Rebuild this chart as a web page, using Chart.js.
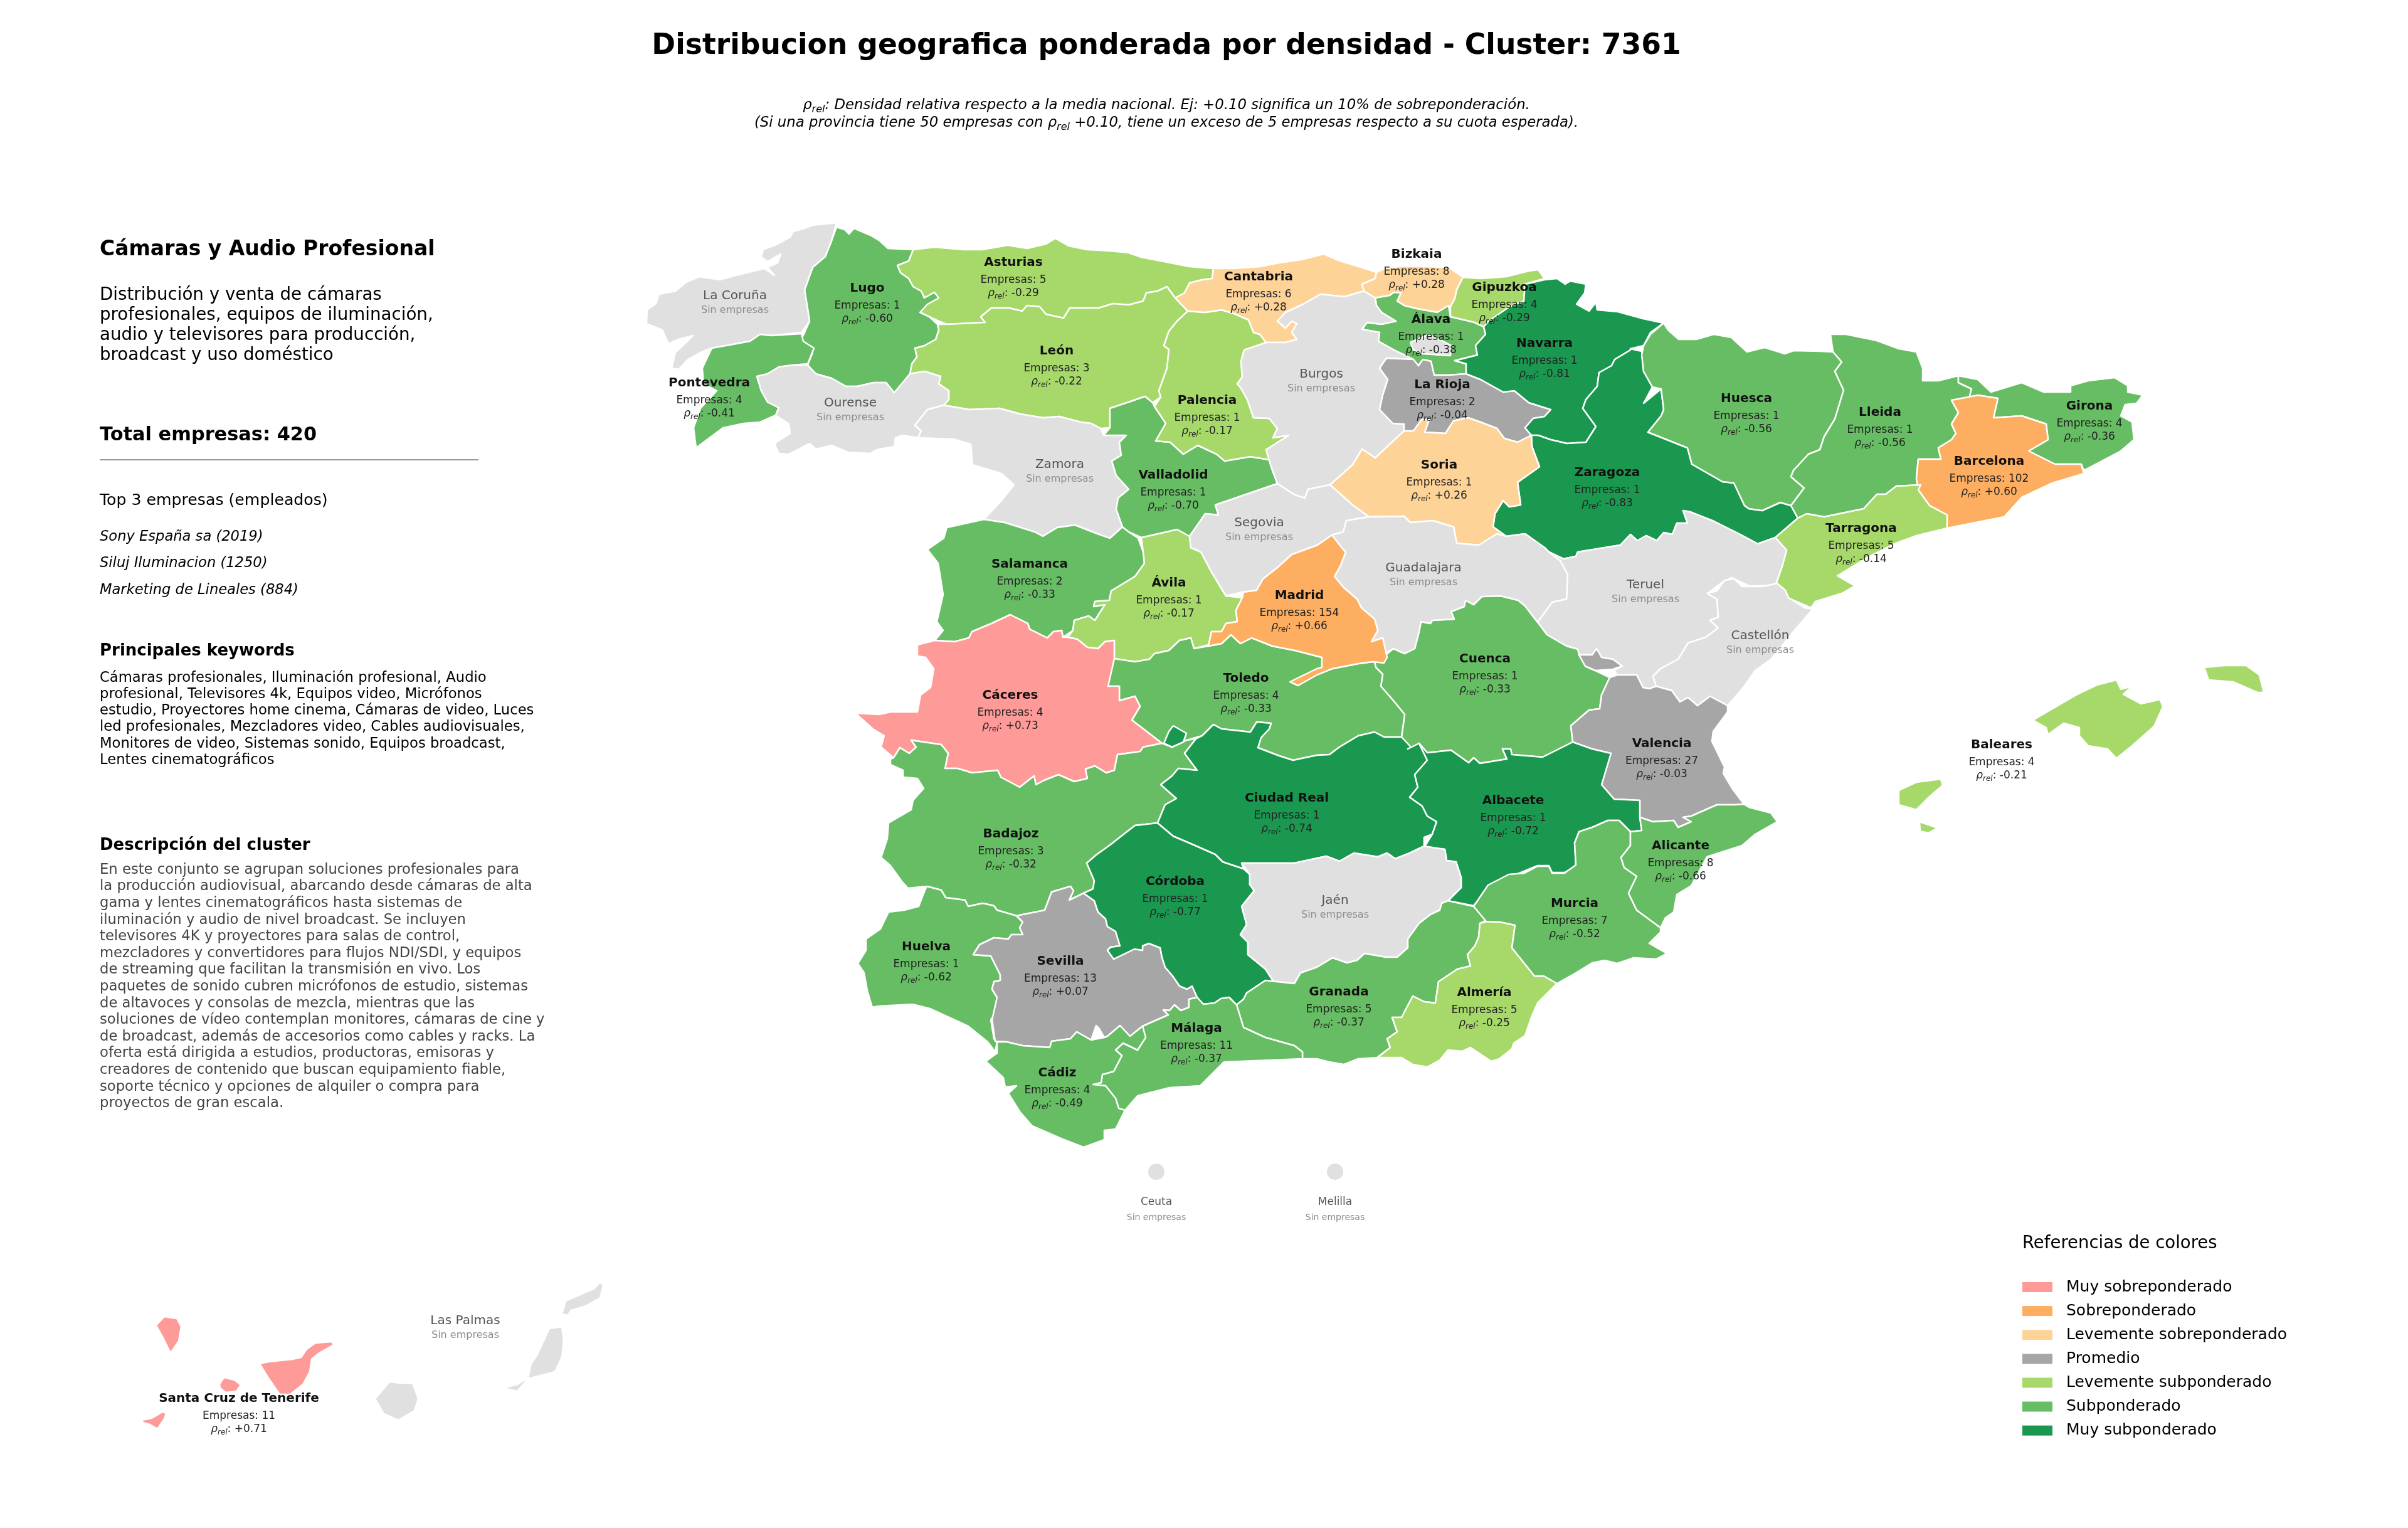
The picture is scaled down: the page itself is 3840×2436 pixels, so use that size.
<!DOCTYPE html>
<html>
<head>
<meta charset="utf-8">
<title>Distribucion geografica</title>
<script src="https://cdn.jsdelivr.net/npm/chart.js@4"></script>
<style>
  html, body { margin: 0; padding: 0; background: #fff; }
  canvas { display: block; }
</style>
</head>
<body>
<canvas id="mapChart" width="3840" height="2436"></canvas>
<script>
// Province outlines (x, y pairs in map units)
const shapeAsturias = [1456,398,1490,394,1536,398,1566,398,1607,391,1638,396,1668,389,1683,380,1704,392,1734,398,1770,400,1800,403,1820,410,1851,416,1897,425,1935,428,1933,444,1917,446,1897,451,1889,467,1874,475,1861,457,1846,464,1828,467,1823,480,1800,486,1775,484,1752,491,1706,491,1696,507,1668,501,1658,489,1638,487,1630,496,1609,491,1581,491,1564,505,1571,514,1510,517,1497,512,1482,505,1467,498,1474,473,1456,457,1449,444,1436,435,1431,423,1449,416];
const shapeLeon = [1510,517,1495,517,1497,526,1492,541,1474,551,1459,555,1462,569,1454,580,1451,596,1474,592,1500,600,1497,612,1513,623,1513,637,1505,646,1546,653,1594,651,1627,660,1663,666,1689,664,1724,673,1740,675,1755,683,1770,682,1770,651,1800,641,1826,632,1838,642,1851,633,1848,623,1861,587,1864,557,1856,551,1864,528,1877,512,1894,496,1874,475,1861,457,1846,464,1828,467,1823,480,1800,486,1775,484,1752,491,1706,491,1696,507,1668,501,1658,489,1638,487,1630,496,1609,491,1581,491,1564,505,1571,514];
const shapeLugo = [1334,362,1347,366,1354,373,1362,364,1388,375,1403,384,1416,396,1456,398,1449,416,1431,423,1436,435,1449,444,1456,457,1469,464,1474,475,1490,466,1497,475,1479,485,1467,498,1482,505,1495,517,1497,526,1492,541,1474,551,1459,555,1462,569,1454,580,1451,596,1439,612,1426,626,1413,610,1393,610,1367,616,1349,616,1326,603,1301,596,1288,582,1296,562,1278,541,1283,530,1291,512,1283,462,1296,426,1316,409,1326,384];
const shapeLaCoruna = [1334,355,1296,359,1283,364,1265,369,1260,378,1240,389,1217,398,1214,410,1224,417,1245,405,1240,419,1224,426,1235,439,1219,428,1194,434,1173,439,1148,446,1115,441,1094,450,1077,464,1051,469,1046,484,1032,494,1031,516,1056,526,1066,548,1082,541,1105,535,1092,548,1077,562,1071,587,1082,589,1097,573,1117,562,1135,555,1158,551,1196,544,1212,533,1230,535,1278,530,1291,512,1283,462,1296,426,1316,409,1326,384];
const shapePontevedra = [1135,555,1158,551,1196,544,1212,533,1230,535,1278,532,1281,544,1298,555,1288,580,1265,582,1242,585,1224,596,1207,600,1214,623,1224,641,1242,650,1237,662,1212,673,1186,675,1153,682,1110,714,1106,682,1117,651,1143,623,1122,612,1120,587];
const shapeOurense = [1207,600,1224,596,1242,585,1265,582,1288,582,1301,596,1326,603,1349,616,1367,616,1393,610,1413,610,1426,626,1451,596,1474,592,1500,600,1497,612,1513,623,1513,637,1505,646,1479,653,1459,678,1469,687,1464,698,1439,694,1428,698,1426,712,1398,717,1388,723,1352,721,1326,710,1301,716,1291,707,1258,724,1242,723,1235,707,1260,691,1258,676,1237,662,1242,650,1224,641,1214,623];
const shapeZamora = [1505,646,1546,653,1594,651,1627,660,1663,666,1689,664,1724,673,1740,675,1755,683,1760,694,1796,694,1785,705,1788,726,1773,735,1780,758,1800,780,1783,794,1780,812,1790,840,1770,858,1750,851,1714,837,1686,841,1663,855,1650,848,1602,833,1569,828,1597,798,1617,773,1597,755,1551,741,1548,708,1520,700,1464,698,1469,687,1459,678,1479,653];
const shapeSalamanca = [1569,828,1510,841,1505,858,1479,876,1496,898,1499,916,1504,948,1494,991,1504,1005,1491,1021,1522,1023,1545,1017,1550,1007,1581,994,1611,980,1639,994,1642,1003,1670,1017,1680,1007,1693,1005,1695,1016,1711,1005,1713,989,1736,982,1746,989,1762,964,1744,967,1746,959,1769,957,1772,942,1810,919,1825,898,1823,880,1815,858,1800,848,1790,840,1770,858,1750,851,1714,837,1686,841,1663,855,1650,848,1602,833];
const shapeAvila = [1823,880,1820,857,1877,844,1897,855,1899,873,1915,880,1932,912,1955,950,1981,953,1971,973,1973,991,1955,994,1948,1007,1932,1007,1927,1028,1904,1034,1899,1017,1881,1021,1864,1037,1841,1042,1833,1051,1810,1055,1777,1050,1777,1021,1762,1023,1751,1034,1734,1032,1718,1019,1703,1016,1711,1005,1713,989,1736,982,1746,989,1762,964,1744,967,1746,959,1769,957,1772,942,1810,919,1825,898];
const shapeValladolid = [1770,651,1770,682,1760,694,1796,694,1785,705,1788,726,1773,735,1780,758,1800,780,1783,794,1780,812,1790,840,1800,848,1820,857,1877,844,1897,855,1922,819,1943,821,1938,805,2037,771,2027,744,2024,733,1994,728,1953,735,1940,724,1910,710,1887,724,1866,705,1843,703,1859,675,1841,648,1838,642,1826,632,1800,641];
const shapePalencia = [1894,496,1922,498,1948,494,1968,500,1991,510,1999,530,2009,533,2019,546,1984,558,1979,576,1981,601,1973,612,1979,619,1989,637,1999,666,2024,667,2037,683,2030,698,2055,694,2019,717,2024,733,1994,728,1953,735,1940,724,1910,710,1887,724,1866,705,1843,703,1859,675,1841,648,1851,633,1848,623,1861,587,1864,557,1856,551,1864,528,1877,512];
const shapeCantabria = [1935,428,1968,428,2009,425,2040,419,2075,414,2111,405,2137,416,2167,425,2195,434,2193,444,2172,453,2175,464,2144,473,2106,469,2078,485,2050,498,2037,512,2050,523,2060,512,2068,516,2060,530,2068,541,2050,546,2019,546,2009,533,1999,530,1991,510,1968,500,1948,494,1922,498,1894,496,1874,475,1889,467,1897,451,1917,446,1933,444];
const shapeBizkaia = [2195,434,2208,428,2239,424,2274,425,2310,426,2333,442,2323,462,2320,476,2313,489,2292,498,2259,492,2239,487,2228,480,2234,467,2223,466,2216,471,2193,475,2175,464,2172,453,2193,444];
const shapeGipuzkoa = [2333,442,2361,444,2402,441,2438,432,2453,430,2463,444,2432,453,2430,480,2407,489,2374,512,2366,521,2351,514,2313,505,2313,489,2320,476,2323,462];
const shapeAlava = [2193,475,2216,471,2223,466,2234,467,2228,480,2239,487,2259,492,2292,498,2310,487,2313,505,2351,514,2366,521,2369,533,2353,551,2356,566,2320,575,2338,580,2338,596,2310,598,2287,598,2282,576,2269,573,2262,583,2249,573,2223,558,2198,544,2200,530,2172,525,2180,514,2203,517,2226,512,2203,498,2195,487];
const shapeBurgos = [2144,473,2106,469,2078,485,2050,498,2037,512,2050,523,2060,512,2068,516,2060,530,2068,541,2050,546,2019,546,1984,558,1979,576,1981,601,1973,612,1979,619,1989,637,1999,666,2024,667,2037,683,2030,698,2055,694,2019,717,2027,744,2037,771,2065,789,2081,794,2086,780,2121,773,2157,741,2172,716,2193,730,2239,687,2239,676,2221,675,2200,653,2205,630,2213,605,2200,587,2211,571,2254,573,2223,558,2198,544,2200,530,2172,525,2180,514,2203,517,2226,512,2203,498,2195,487,2193,475,2175,464];
const shapeTrevino = [2249,546,2279,533,2315,551,2313,567,2269,564,2254,558];
const shapeLaRioja = [2211,571,2254,573,2262,583,2269,573,2282,576,2287,598,2310,598,2338,596,2361,605,2397,625,2415,623,2438,642,2473,653,2463,664,2445,667,2432,682,2442,694,2420,705,2399,699,2387,683,2361,673,2341,666,2318,671,2305,691,2272,689,2279,669,2267,669,2254,687,2239,687,2239,676,2221,675,2200,653,2205,630,2213,605,2200,587];
const shapeNavarra = [2463,446,2483,444,2496,453,2504,448,2529,453,2527,467,2514,485,2534,496,2545,482,2547,494,2580,497,2620,508,2653,515,2632,530,2621,551,2600,556,2600,558,2575,573,2570,583,2550,594,2547,616,2529,637,2524,651,2545,680,2529,705,2499,707,2473,701,2453,694,2442,694,2432,682,2445,667,2463,664,2473,653,2438,642,2415,623,2397,625,2361,605,2338,596,2338,580,2320,575,2356,566,2353,551,2369,533,2366,521,2374,512,2407,489,2430,480,2432,453];
const shapeZaragoza = [2600,556,2618,560,2621,592,2635,617,2621,643,2649,620,2653,653,2649,663,2628,689,2691,714,2698,740,2747,768,2765,770,2782,806,2789,811,2810,814,2839,801,2856,806,2867,826,2831,857,2803,867,2775,852,2733,831,2695,816,2684,814,2691,834,2674,834,2667,852,2653,849,2642,862,2625,854,2611,862,2600,852,2584,869,2516,880,2513,887,2493,891,2470,880,2463,873,2432,851,2402,855,2381,840,2384,819,2397,798,2407,808,2425,805,2420,769,2455,744,2443,712,2442,694,2453,694,2473,701,2499,707,2529,705,2545,680,2524,651,2529,637,2547,616,2550,594,2570,583,2575,573,2600,558];
const shapeSoria = [2239,687,2254,687,2267,669,2279,669,2272,689,2305,691,2318,671,2341,666,2361,673,2387,683,2399,699,2420,705,2442,694,2443,712,2455,744,2420,769,2425,805,2407,808,2397,798,2384,819,2381,840,2402,855,2387,862,2358,869,2323,866,2318,840,2285,830,2249,833,2239,823,2183,824,2157,805,2121,773,2157,741,2172,716,2193,730];
const shapeHuesca = [2653,515,2632,533,2621,551,2618,566,2621,592,2635,617,2649,620,2653,653,2649,663,2628,689,2691,714,2698,740,2747,768,2765,770,2782,806,2789,811,2810,814,2839,801,2856,806,2877,778,2856,760,2860,750,2884,724,2902,717,2909,696,2926,668,2940,622,2926,592,2937,577,2923,561,2902,560,2860,559,2846,564,2814,554,2786,561,2761,538,2733,533,2705,541,2677,541,2660,526];
const shapeLleida = [2919,533,2944,533,2993,543,3028,556,3056,561,3066,587,3066,607,3091,607,3123,599,3123,610,3144,620,3140,635,3112,638,3123,658,3112,676,3119,691,3112,701,3091,714,3095,732,3059,732,3056,763,3063,773,3024,775,3007,788,2993,788,2972,811,2909,824,2881,819,2867,826,2856,806,2877,778,2856,760,2860,750,2884,724,2902,717,2909,696,2926,668,2940,622,2926,592,2937,577,2923,561];
const shapeGirona = [3123,599,3154,605,3175,625,3224,610,3259,625,3302,625,3302,615,3330,607,3372,602,3393,615,3393,625,3417,630,3407,643,3389,645,3382,663,3400,673,3403,701,3382,719,3323,750,3319,740,3277,740,3235,719,3266,701,3263,676,3224,663,3179,666,3186,635,3154,630,3140,635,3144,620,3123,610];
const shapeBarcelona = [3112,638,3154,630,3186,635,3179,666,3224,663,3263,676,3266,701,3235,719,3277,740,3319,740,3323,755,3273,770,3224,793,3196,824,3105,842,3105,821,3077,806,3059,781,3056,763,3059,732,3095,732,3091,714,3112,701,3119,691,3112,676,3123,658];
const shapeTarragona = [2867,826,2881,819,2909,824,2972,811,2993,788,3007,788,3024,775,3063,773,3059,781,3077,806,3105,821,3105,842,3056,854,3021,867,2979,888,2930,918,2958,934,2937,946,2895,959,2888,969,2846,951,2831,934,2842,903,2849,877,2831,857];
const shapeTeruel = [2470,880,2493,891,2513,887,2516,880,2584,869,2600,852,2611,862,2625,854,2642,862,2653,849,2667,852,2674,834,2691,834,2684,814,2695,816,2733,831,2775,852,2803,867,2831,857,2849,877,2842,903,2831,934,2789,934,2761,921,2747,928,2723,946,2738,955,2740,984,2727,989,2740,1001,2720,1016,2692,1025,2676,1051,2648,1066,2636,1078,2641,1094,2630,1098,2620,1096,2610,1076,2579,1076,2574,1069,2587,1062,2572,1051,2554,1048,2546,1034,2539,1044,2518,1044,2516,1035,2498,1030,2467,1012,2452,992,2475,960,2498,955,2500,916,2488,894];
const shapeCastellon = [2722,946,2738,942,2750,925,2766,923,2778,935,2811,935,2834,930,2847,941,2852,953,2878,969,2891,971,2865,1001,2824,1051,2799,1069,2783,1092,2763,1116,2755,1125,2727,1110,2707,1125,2692,1112,2679,1119,2666,1101,2641,1094,2636,1078,2648,1066,2676,1051,2692,1025,2720,1016,2740,1001,2727,989,2740,984,2738,955];
const shapeValencia = [2567,1080,2579,1076,2610,1076,2620,1096,2630,1098,2641,1094,2666,1101,2679,1119,2692,1112,2707,1125,2727,1110,2755,1125,2755,1135,2732,1166,2730,1182,2750,1223,2748,1233,2763,1258,2781,1282,2766,1283,2738,1283,2697,1301,2684,1303,2697,1310,2676,1319,2669,1308,2636,1310,2615,1303,2615,1276,2574,1274,2554,1251,2569,1201,2539,1194,2508,1183,2505,1157,2534,1132,2551,1130,2554,1108];
const shapeAdemuz = [2518,1044,2539,1044,2546,1034,2554,1048,2572,1051,2587,1062,2572,1067,2544,1069,2528,1062];
const shapeSegovia = [1938,805,2037,771,2065,789,2081,794,2086,780,2121,773,2157,805,2183,824,2147,830,2142,848,2124,853,2101,869,2060,884,2037,905,2014,923,2004,941,1981,944,1955,950,1932,912,1915,880,1899,873,1897,855,1922,819,1943,821];
const shapeGuadalajara = [2147,830,2183,824,2239,823,2249,833,2285,830,2318,840,2323,866,2358,869,2387,851,2402,855,2432,851,2463,873,2470,880,2488,894,2500,916,2498,955,2475,960,2452,992,2432,966,2421,957,2393,950,2363,951,2350,964,2337,957,2335,967,2314,975,2319,987,2284,989,2281,994,2266,991,2263,1007,2256,1034,2240,1042,2222,1034,2210,1041,2205,1017,2187,1023,2197,1005,2192,987,2171,969,2164,955,2143,937,2128,919,2138,901,2146,880,2142,876,2124,853,2142,848];
const shapeToledo = [1777,1050,1810,1055,1833,1051,1841,1042,1864,1037,1881,1021,1899,1017,1904,1034,1927,1030,1948,1026,1963,1012,1978,1026,1996,1017,2029,1030,2065,1037,2100,1046,2108,1048,2108,1064,2125,1066,2166,1058,2189,1055,2192,1055,2194,1064,2205,1075,2202,1094,2222,1117,2240,1139,2235,1175,2207,1175,2192,1167,2166,1173,2136,1191,2120,1203,2100,1204,2062,1212,2040,1205,2006,1192,2011,1176,2024,1162,2027,1153,2004,1151,1994,1167,1948,1162,1935,1155,1917,1173,1892,1180,1869,1191,1853,1185,1805,1148,1818,1126,1810,1110,1785,1117,1785,1094,1767,1094,1774,1051];
const shapeMadrid = [2124,853,2142,876,2146,880,2138,901,2128,919,2143,937,2164,955,2171,969,2192,987,2197,1005,2187,1023,2205,1017,2212,1048,2207,1057,2189,1055,2166,1058,2125,1066,2100,1076,2070,1093,2057,1087,2100,1066,2108,1064,2108,1048,2100,1046,2065,1037,2029,1030,1996,1017,1978,1026,1963,1012,1948,1026,1927,1030,1932,1007,1948,1007,1955,994,1973,991,1971,973,1981,953,1983,944,2004,941,2014,923,2037,905,2060,884,2101,869];
const shapeCuenca = [2210,1044,2222,1034,2240,1042,2256,1034,2263,1007,2266,991,2281,994,2284,989,2319,987,2314,975,2335,967,2337,957,2350,964,2363,951,2393,950,2421,957,2432,966,2452,992,2467,1012,2498,1030,2516,1035,2518,1044,2528,1062,2544,1069,2567,1080,2554,1108,2551,1130,2534,1132,2505,1157,2508,1183,2460,1207,2411,1203,2409,1194,2396,1194,2403,1210,2360,1217,2350,1208,2342,1216,2314,1196,2276,1200,2263,1185,2248,1194,2235,1175,2240,1139,2222,1117,2202,1094,2205,1075,2194,1064,2192,1055];
const shapeCaceres = [1463,1028,1491,1021,1522,1023,1545,1017,1550,1007,1581,994,1611,980,1639,994,1642,1003,1670,1017,1680,1007,1693,1005,1695,1016,1703,1016,1718,1019,1734,1032,1751,1034,1762,1023,1777,1021,1777,1050,1767,1094,1785,1094,1785,1117,1810,1110,1818,1126,1805,1148,1853,1185,1823,1191,1818,1198,1782,1203,1777,1228,1764,1232,1746,1221,1731,1226,1734,1241,1713,1246,1688,1235,1665,1244,1652,1251,1649,1237,1626,1255,1596,1239,1591,1228,1550,1232,1527,1225,1507,1225,1512,1201,1501,1187,1453,1180,1461,1191,1450,1201,1435,1192,1425,1208,1405,1191,1410,1173,1392,1162,1364,1137,1402,1139,1420,1135,1463,1135,1468,1108,1484,1096,1489,1066,1476,1048,1463,1046];
const shapeBadajoz = [1478,1413,1501,1419,1508,1431,1539,1435,1544,1445,1567,1440,1585,1444,1590,1451,1621,1460,1666,1451,1677,1422,1707,1413,1712,1420,1705,1435,1728,1424,1743,1417,1745,1404,1733,1376,1748,1363,1769,1348,1792,1330,1810,1316,1846,1312,1858,1283,1876,1273,1851,1251,1869,1237,1879,1225,1909,1228,1889,1201,1907,1178,1892,1180,1869,1191,1853,1185,1823,1191,1818,1198,1782,1203,1777,1228,1764,1232,1746,1221,1731,1226,1734,1241,1713,1246,1688,1235,1665,1244,1652,1251,1649,1237,1626,1255,1596,1239,1591,1228,1550,1232,1527,1225,1507,1225,1512,1201,1501,1187,1453,1180,1461,1191,1450,1201,1435,1192,1425,1208,1420,1210,1420,1219,1440,1228,1440,1239,1463,1241,1473,1257,1456,1276,1453,1291,1417,1312,1415,1337,1405,1367,1420,1380,1438,1405,1448,1416];
const shapeHuelva = [1478,1413,1501,1419,1508,1431,1539,1435,1544,1445,1567,1440,1585,1444,1590,1451,1621,1460,1631,1470,1626,1479,1631,1490,1613,1490,1608,1497,1585,1495,1562,1506,1552,1522,1580,1524,1595,1554,1595,1563,1585,1565,1582,1577,1590,1590,1587,1615,1580,1626,1585,1656,1590,1661,1587,1677,1575,1661,1544,1636,1483,1608,1455,1601,1401,1604,1391,1606,1383,1579,1378,1551,1368,1536,1381,1515,1381,1497,1404,1481,1417,1454,1442,1451,1465,1445,1475,1419];
const shapeSevilla = [1621,1460,1666,1451,1677,1422,1707,1413,1712,1420,1705,1435,1728,1424,1745,1436,1751,1454,1763,1465,1766,1477,1779,1485,1786,1508,1771,1510,1766,1515,1776,1529,1809,1513,1822,1515,1822,1508,1832,1504,1850,1511,1853,1526,1858,1542,1870,1556,1881,1572,1893,1577,1901,1572,1909,1590,1896,1593,1896,1606,1883,1611,1873,1602,1865,1611,1855,1610,1863,1618,1822,1636,1802,1652,1786,1635,1766,1652,1761,1654,1753,1640,1748,1635,1740,1658,1717,1645,1707,1656,1677,1660,1674,1670,1631,1667,1605,1661,1587,1660,1582,1626,1590,1590,1582,1577,1585,1565,1595,1563,1595,1554,1580,1524,1552,1522,1562,1506,1585,1495,1608,1497,1613,1490,1631,1490,1626,1479,1631,1470];
const shapeCordoba = [1748,1363,1769,1348,1792,1330,1810,1316,1846,1312,1871,1333,1897,1344,1938,1362,1950,1374,1983,1385,1993,1394,1993,1410,2000,1420,1980,1445,1988,1474,1978,1490,1990,1502,1990,1522,2018,1545,2031,1565,2018,1563,1988,1583,1983,1593,1972,1602,1960,1590,1947,1592,1937,1599,1919,1601,1909,1590,1901,1572,1893,1577,1881,1572,1870,1556,1858,1542,1853,1526,1850,1511,1832,1504,1822,1508,1822,1515,1809,1513,1776,1529,1766,1515,1771,1510,1786,1508,1779,1485,1766,1477,1763,1465,1751,1454,1745,1436,1728,1424,1743,1417,1745,1404,1733,1376];
const shapeCiudadReal = [2100,1204,2120,1203,2136,1191,2166,1173,2192,1167,2207,1175,2235,1175,2250,1191,2245,1194,2263,1185,2276,1212,2256,1235,2261,1255,2248,1271,2268,1285,2276,1301,2291,1310,2284,1330,2271,1335,2271,1349,2248,1360,2225,1369,2212,1360,2197,1366,2159,1360,2136,1373,2115,1365,2064,1376,1980,1376,1983,1385,1950,1374,1938,1362,1897,1344,1871,1333,1846,1312,1858,1283,1876,1273,1851,1251,1869,1237,1879,1225,1909,1228,1889,1201,1907,1178,1917,1173,1935,1155,1948,1162,1994,1167,2004,1151,2027,1153,2024,1162,2011,1176,2006,1192,2040,1205,2062,1212];
const shapeAnchuras = [1871,1157,1892,1169,1887,1183,1869,1191,1856,1185,1864,1166];
const shapeAlbacete = [2276,1200,2314,1196,2342,1216,2350,1208,2360,1217,2403,1210,2396,1194,2409,1194,2411,1203,2460,1207,2508,1183,2539,1194,2569,1201,2554,1251,2574,1274,2615,1276,2615,1303,2618,1324,2600,1326,2582,1308,2564,1308,2539,1319,2518,1326,2511,1344,2513,1380,2495,1391,2475,1391,2470,1380,2452,1380,2406,1399,2375,1412,2350,1444,2309,1436,2330,1415,2330,1399,2322,1374,2307,1372,2304,1354,2271,1351,2284,1330,2291,1310,2276,1301,2268,1285,2248,1271,2261,1255,2256,1235,2276,1212,2263,1185];
const shapeJaen = [1980,1376,2064,1376,2115,1365,2136,1373,2159,1360,2197,1366,2212,1360,2225,1369,2248,1360,2271,1349,2304,1354,2307,1372,2322,1374,2330,1399,2330,1415,2309,1436,2299,1440,2296,1451,2281,1458,2263,1472,2245,1497,2245,1511,2228,1526,2210,1526,2176,1520,2164,1531,2148,1535,2125,1527,2100,1542,2074,1551,2064,1568,2036,1565,2031,1565,2018,1545,1990,1522,1990,1502,1978,1490,1988,1474,1980,1445,2000,1420,1993,1410,1993,1394];
const shapeGranada = [1972,1602,1983,1593,1988,1583,2018,1563,2036,1565,2064,1568,2074,1551,2100,1542,2125,1527,2148,1535,2164,1531,2176,1520,2210,1526,2228,1526,2245,1511,2245,1497,2263,1472,2281,1458,2296,1451,2299,1440,2309,1436,2350,1445,2370,1467,2360,1472,2358,1494,2352,1508,2340,1522,2345,1540,2324,1545,2294,1565,2289,1599,2271,1597,2253,1588,2235,1622,2220,1622,2228,1645,2212,1656,2217,1670,2197,1685,2197,1686,2166,1688,2143,1697,2120,1693,2100,1688,2077,1688,2077,1677,2064,1667,2018,1654,1983,1638];
const shapeAlmeria = [2370,1469,2393,1470,2416,1475,2411,1511,2447,1556,2462,1556,2483,1568,2452,1599,2442,1622,2432,1651,2414,1663,2411,1672,2391,1688,2378,1692,2345,1670,2332,1676,2309,1674,2296,1690,2276,1701,2253,1697,2235,1686,2197,1686,2217,1670,2212,1656,2228,1645,2220,1622,2235,1622,2253,1588,2271,1597,2289,1599,2294,1565,2324,1545,2345,1540,2340,1522,2352,1508,2358,1494,2360,1472];
const shapeMurcia = [2350,1445,2373,1411,2406,1394,2431,1392,2452,1381,2470,1381,2475,1392,2495,1392,2513,1379,2511,1344,2518,1326,2539,1319,2564,1308,2582,1308,2600,1326,2600,1348,2585,1367,2590,1383,2610,1397,2597,1424,2610,1451,2648,1479,2648,1486,2630,1504,2658,1520,2641,1529,2605,1527,2579,1536,2559,1531,2539,1535,2513,1551,2483,1568,2462,1556,2447,1556,2411,1511,2416,1475,2393,1470,2370,1469];
const shapeAlicante = [2789,1287,2824,1296,2834,1310,2799,1330,2778,1348,2722,1366,2697,1412,2674,1426,2669,1454,2656,1463,2648,1479,2610,1451,2597,1424,2610,1397,2590,1383,2585,1367,2600,1348,2600,1326,2618,1324,2615,1303,2636,1310,2669,1308,2676,1319,2697,1310,2684,1303,2697,1301,2738,1283,2766,1283,2781,1282];
const shapeMalaga = [1822,1636,1827,1654,1814,1674,1791,1663,1779,1674,1789,1683,1776,1708,1758,1713,1756,1726,1743,1729,1763,1731,1779,1751,1784,1767,1794,1770,1814,1747,1865,1734,1914,1731,1952,1693,2077,1688,2077,1677,2064,1667,2018,1654,1983,1638,1972,1602,1960,1590,1947,1592,1937,1599,1919,1601,1909,1590,1896,1593,1896,1606,1883,1611,1873,1602,1865,1611,1855,1610,1863,1618];
const shapeCadiz = [1590,1661,1605,1661,1631,1667,1674,1670,1677,1660,1707,1656,1717,1645,1740,1658,1761,1654,1766,1652,1786,1635,1802,1652,1822,1636,1827,1654,1814,1674,1791,1663,1779,1674,1789,1683,1776,1708,1758,1713,1756,1726,1743,1729,1763,1731,1779,1751,1784,1767,1794,1770,1779,1800,1761,1802,1761,1817,1728,1829,1692,1815,1646,1795,1626,1772,1608,1743,1621,1731,1603,1733,1600,1718,1572,1692,1590,1679];
const shapeMallorca = [3242,1148,3273,1130,3309,1109,3344,1092,3375,1084,3382,1099,3400,1094,3386,1107,3414,1122,3445,1115,3449,1127,3435,1158,3400,1189,3375,1209,3361,1194,3330,1189,3316,1173,3316,1160,3291,1153,3266,1171,3263,1160];
const shapeMenorca = [3515,1064,3547,1061,3582,1061,3603,1076,3610,1104,3600,1104,3561,1087,3522,1084];
const shapeIbiza = [3028,1260,3056,1247,3095,1242,3098,1252,3077,1270,3056,1291,3028,1283];
const shapeFormentera = [3061,1310,3090,1320,3075,1328,3062,1325];
const shapeLaPalma = [249,2113,262,2099,282,2102,289,2115,285,2138,272,2157,259,2131];
const shapeGomera = [350,2207,357,2196,374,2200,384,2208,377,2218,360,2220,351,2213];
const shapeTenerife = [414,2174,428,2171,466,2167,480,2164,489,2151,503,2141,529,2139,532,2144,509,2157,497,2167,494,2187,483,2207,463,2223,446,2223,428,2197];
const shapeHierro = [226,2264,242,2261,259,2251,265,2253,262,2262,251,2278,239,2271,228,2268];
const shapeGranCanaria = [598,2230,621,2203,638,2205,658,2205,667,2230,661,2249,635,2264,612,2254];
const shapeFuerteventura = [802,2213,825,2207,842,2197,847,2174,856,2161,876,2118,896,2115,899,2138,896,2164,885,2187,842,2198,825,2218];
const shapeLanzarote = [896,2095,902,2074,925,2064,948,2054,957,2044,962,2049,957,2069,934,2082,911,2089,905,2097];

// Values per province, same order everywhere (also the paint order)
const provinceNames = ['Asturias','León','Lugo','La Coruña','Pontevedra','Ourense','Zamora','Salamanca','Ávila','Valladolid','Palencia','Cantabria','Bizkaia','Gipuzkoa','Álava','Burgos','La Rioja','Navarra','Zaragoza','Soria','Huesca','Lleida','Girona','Barcelona','Tarragona','Teruel','Castellón','Cuenca','Valencia','Segovia','Guadalajara','Toledo','Madrid','Cáceres','Badajoz','Huelva','Sevilla','Córdoba','Ciudad Real','Albacete','Jaén','Granada','Almería','Murcia','Alicante','Málaga','Cádiz','Baleares','Santa Cruz de Tenerife','Las Palmas'];
const provinceEmpresas = [5,3,1,0,4,0,0,2,1,1,1,6,8,4,1,0,2,1,1,1,1,1,4,102,5,0,0,1,27,0,0,4,154,4,3,1,13,1,1,1,0,5,5,7,8,11,4,4,11,0];
const provinceRho = [-0.29,-0.22,-0.60,null,-0.41,null,null,-0.33,-0.17,-0.70,-0.17,0.28,0.28,-0.29,-0.38,null,-0.04,-0.81,-0.83,0.26,-0.56,-0.56,-0.36,0.60,-0.14,null,null,-0.33,-0.03,null,null,-0.33,0.66,0.73,-0.32,-0.62,0.07,-0.77,-0.74,-0.72,null,-0.37,-0.25,-0.52,-0.66,-0.37,-0.49,-0.21,0.71,null];
const provinceShapes = [[shapeAsturias],[shapeLeon],[shapeLugo],[shapeLaCoruna],[shapePontevedra],[shapeOurense],[shapeZamora],[shapeSalamanca],[shapeAvila],[shapeValladolid],[shapePalencia],[shapeCantabria],[shapeBizkaia],[shapeGipuzkoa],[shapeAlava],[shapeBurgos,shapeTrevino],[shapeLaRioja],[shapeNavarra],[shapeZaragoza],[shapeSoria],[shapeHuesca],[shapeLleida],[shapeGirona],[shapeBarcelona],[shapeTarragona],[shapeTeruel],[shapeCastellon],[shapeCuenca],[shapeValencia,shapeAdemuz],[shapeSegovia],[shapeGuadalajara],[shapeToledo],[shapeMadrid],[shapeCaceres],[shapeBadajoz],[shapeHuelva],[shapeSevilla],[shapeCordoba],[shapeCiudadReal,shapeAnchuras],[shapeAlbacete],[shapeJaen],[shapeGranada],[shapeAlmeria],[shapeMurcia],[shapeAlicante],[shapeMalaga],[shapeCadiz],[shapeMallorca,shapeMenorca,shapeIbiza,shapeFormentera],[shapeLaPalma,shapeGomera,shapeTenerife,shapeHierro],[shapeGranCanaria,shapeFuerteventura,shapeLanzarote]];
const labelAnchors = [[1616,419],[1685,560],[1383,460],[1172,472],[1131,611],[1356,643],[1690,741],[1642,900],[1864,930],[1871,758],[1925,639],[2007,442],[2259,406],[2399,459],[2282,510],[2107,597],[2300,614],[2463,548],[2563,754],[2295,742],[2785,636],[2998,658],[3332,648],[3172,736],[2968,843],[2624,933],[2807,1014],[2368,1051],[2650,1186],[2008,834],[2270,906],[1987,1082],[2072,950],[1611,1109],[1612,1330],[1477,1510],[1691,1533],[1874,1406],[2052,1273],[2413,1277],[2129,1436],[2135,1582],[2367,1583],[2511,1441],[2680,1349],[1908,1640],[1686,1711],[3192,1188],[381,2230],[742,2106]];

// Ceuta and Melilla are too small for an outline, they are plotted as points
const cityNames = ['Ceuta','Melilla'];
const cityPoints = [[1844,1868],[2129,1868]];

// Colour classes
const legendLabels = ['Muy sobreponderado','Sobreponderado','Levemente sobreponderado','Promedio','Levemente subponderado','Subponderado','Muy subponderado'];
const legendColors = ['#fe9a97','#fdae61','#fed397','#a6a6a6','#a6d96a','#66bd63','#1a9850'];
const noDataColor = '#e0e0e0';

// Side panel text
const panelTitle = 'Cámaras y Audio Profesional';
const panelIntro = ['Distribución y venta de cámaras','profesionales, equipos de iluminación,','audio y televisores para producción,','broadcast y uso doméstico'];
const panelTotal = 'Total empresas: 420';
const topCompanies = ['Sony España sa (2019)','Siluj Iluminacion (1250)','Marketing de Lineales (884)'];
const keywordLines = ['Cámaras profesionales, Iluminación profesional, Audio','profesional, Televisores 4k, Equipos video, Micrófonos','estudio, Proyectores home cinema, Cámaras de video, Luces','led profesionales, Mezcladores video, Cables audiovisuales,','Monitores de video, Sistemas sonido, Equipos broadcast,','Lentes cinematográficos'];
const descriptionLines = ['En este conjunto se agrupan soluciones profesionales para','la producción audiovisual, abarcando desde cámaras de alta','gama y lentes cinematográficos hasta sistemas de','iluminación y audio de nivel broadcast. Se incluyen','televisores 4K y proyectores para salas de control,','mezcladores y convertidores para flujos NDI/SDI, y equipos','de streaming que facilitan la transmisión en vivo. Los','paquetes de sonido cubren micrófonos de estudio, sistemas','de altavoces y consolas de mezcla, mientras que las','soluciones de vídeo contemplan monitores, cámaras de cine y','de broadcast, además de accesorios como cables y racks. La','oferta está dirigida a estudios, productoras, emisoras y','creadores de contenido que buscan equipamiento fiable,','soporte técnico y opciones de alquiler o compra para','proyectos de gran escala.'];

const FONT = '"DejaVu Sans"';

function classColor(rho) {
    if (rho === null) return noDataColor;
    if (rho >= 0.7) return legendColors[0];
    if (rho >= 0.3) return legendColors[1];
    if (rho >= 0.1) return legendColors[2];
    if (rho > -0.1) return legendColors[3];
    if (rho > -0.3) return legendColors[4];
    if (rho >= -0.7) return legendColors[5];
    return legendColors[6];
}

function toPoints(flat) {
    const points = [];
    for (let i = 0; i < flat.length; i += 2) {
        points.push({ x: flat[i], y: flat[i + 1] });
    }
    points.push({ x: flat[0], y: flat[1] }); // close the ring
    return points;
}

function formatRho(rho) {
    return (rho > 0 ? '+' : '') + rho.toFixed(2);
}

// Text pieces in a row, centred on cx
function drawRuns(ctx, runs, cx, y, color) {
    let width = 0;
    runs.forEach(run => {
        ctx.font = run.font;
        width += ctx.measureText(run.text).width;
    });
    let x = cx - width / 2;
    ctx.fillStyle = color;
    ctx.textAlign = 'left';
    ctx.textBaseline = 'alphabetic';
    runs.forEach(run => {
        ctx.font = run.font;
        ctx.fillText(run.text, x, y + (run.dy || 0));
        x += ctx.measureText(run.text).width;
    });
}

function drawLine(ctx, text, x, y, font, color, align) {
    ctx.font = font;
    ctx.fillStyle = color;
    ctx.textAlign = align || 'left';
    ctx.textBaseline = 'middle';
    ctx.fillText(text, x, y);
}

function rhoRuns(size, subSize, rest, prefix) {
    const oblique = `italic ${size}px ${FONT}`;
    const runs = prefix ? [{ text: prefix, font: oblique }] : [];
    runs.push({ text: 'ρ', font: oblique });
    runs.push({ text: 'rel', font: `italic ${subSize}px ${FONT}`, dy: Math.round(size * 0.22) });
    return runs.concat(rest);
}

const labelsPlugin = {
    id: 'mapLabels',
    afterDatasetsDraw(chart) {
        const ctx = chart.ctx;
        const sx = chart.scales.x;
        const sy = chart.scales.y;
        ctx.save();

        provinceNames.forEach((name, i) => {
            const cx = sx.getPixelForValue(labelAnchors[i][0]);
            const cy = sy.getPixelForValue(labelAnchors[i][1]);
            if (provinceRho[i] === null) {
                drawLine(ctx, name, cx, cy, `20px ${FONT}`, '#555555', 'center');
                drawLine(ctx, 'Sin empresas', cx, cy + 23, `16px ${FONT}`, '#8c8c8c', 'center');
            } else {
                drawLine(ctx, name, cx, cy, `bold 20px ${FONT}`, '#111111', 'center');
                drawLine(ctx, 'Empresas: ' + provinceEmpresas[i], cx, cy + 28, `17px ${FONT}`, '#222222', 'center');
                drawRuns(ctx, rhoRuns(17, 12, [{ text: ': ' + formatRho(provinceRho[i]), font: `17px ${FONT}` }]), cx, cy + 53, '#222222');
            }
        });

        cityNames.forEach((name, i) => {
            const cx = sx.getPixelForValue(cityPoints[i][0]);
            const cy = sy.getPixelForValue(1917);
            drawLine(ctx, name, cx, cy, `17px ${FONT}`, '#555555', 'center');
            drawLine(ctx, 'Sin empresas', cx, cy + 24, `14px ${FONT}`, '#8c8c8c', 'center');
        });

        // title
        drawLine(ctx, 'Distribucion geografica ponderada por densidad - Cluster: 7361', 1860, 74, `bold 45.6px ${FONT}`, '#000000', 'center');
        const sub = `italic 22.8px ${FONT}`;
        drawRuns(ctx, rhoRuns(22.8, 16, [{ text: ': Densidad relativa respecto a la media nacional. Ej: +0.10 significa un 10% de sobreponderación.', font: sub }]), 1860, 174, '#000000');
        drawRuns(ctx, rhoRuns(22.8, 16, [{ text: ' +0.10, tiene un exceso de 5 empresas respecto a su cuota esperada).', font: sub }], '(Si una provincia tiene 50 empresas con '), 1860, 202, '#000000');

        // side panel
        const px = 159;
        drawLine(ctx, panelTitle, px, 398, `bold 33px ${FONT}`, '#000000');
        panelIntro.forEach((t, i) => drawLine(ctx, t, px, 471 + i * 32, `27.7px ${FONT}`, '#000000'));
        drawLine(ctx, panelTotal, px, 694, `bold 30.4px ${FONT}`, '#000000');
        ctx.strokeStyle = '#999999';
        ctx.lineWidth = 2;
        ctx.beginPath();
        ctx.moveTo(px, 733);
        ctx.lineTo(763, 733);
        ctx.stroke();
        drawLine(ctx, 'Top 3 empresas (empleados)', px, 798, `25.2px ${FONT}`, '#000000');
        topCompanies.forEach((t, i) => drawLine(ctx, t, px, 856 + i * 42.5, `italic 22.6px ${FONT}`, '#000000'));
        drawLine(ctx, 'Principales keywords', px, 1038, `bold 26px ${FONT}`, '#000000');
        keywordLines.forEach((t, i) => drawLine(ctx, t, px, 1081 + i * 26.2, `22.7px ${FONT}`, '#000000'));
        drawLine(ctx, 'Descripción del cluster', px, 1348, `bold 26px ${FONT}`, '#000000');
        descriptionLines.forEach((t, i) => drawLine(ctx, t, px, 1387 + i * 26.6, `22.7px ${FONT}`, '#444444'));

        // legend
        drawLine(ctx, 'Referencias de colores', 3225, 1983, `27.5px ${FONT}`, '#000000');
        legendLabels.forEach((t, i) => {
            const rowY = 2052 + i * 38.1;
            ctx.fillStyle = legendColors[i];
            ctx.fillRect(3225, rowY - 8, 48, 16);
            drawLine(ctx, t, 3295, rowY, `25px ${FONT}`, '#000000');
        });

        ctx.restore();
    }
};

function buildDatasets() {
    const datasets = [];
    provinceNames.forEach((name, i) => {
        provinceShapes[i].forEach(shape => {
            datasets.push({
                label: name,
                data: toPoints(shape),
                showLine: true,
                fill: 'shape',
                tension: 0,
                pointRadius: 0,
                backgroundColor: classColor(provinceRho[i]),
                borderColor: '#ffffff',
                borderWidth: 2.5,
                borderJoinStyle: 'round'
            });
        });
    });
    datasets.push({
        label: 'Ciudades',
        data: cityPoints.map(p => ({ x: p[0], y: p[1] })),
        showLine: false,
        pointRadius: 13,
        pointBorderWidth: 0,
        backgroundColor: noDataColor
    });
    // later datasets paint on top
    datasets.forEach((d, i) => { d.order = datasets.length - i; });
    return datasets;
}

new Chart(document.getElementById('mapChart'), {
    type: 'scatter',
    data: { datasets: buildDatasets() },
    options: {
        responsive: false,
        animation: false,
        devicePixelRatio: 1,
        // no inset for the city points, the map units must fill the canvas
        layout: { padding: 0, autoPadding: false },
        plugins: {
            legend: { display: false },
            title: { display: false },
            tooltip: { enabled: false }
        },
        scales: {
            x: { type: 'linear', min: 0, max: 3840, display: false },
            y: { type: 'linear', min: 0, max: 2436, reverse: true, display: false }
        }
    },
    plugins: [labelsPlugin]
});
</script>
</body>
</html>
